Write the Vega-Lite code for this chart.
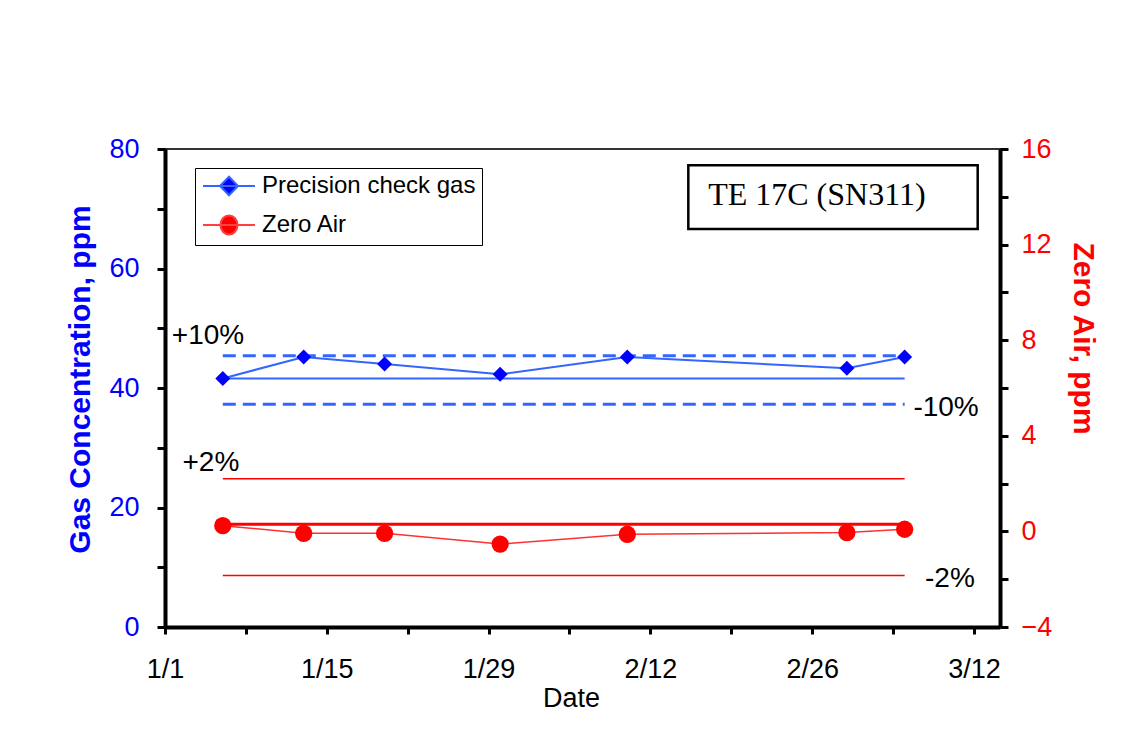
{
  "$schema": "https://vega.github.io/schema/vega-lite/v6.json",
  "width": 835,
  "height": 478,
  "autosize": {"type": "none"},
  "padding": {"left": 165, "top": 149, "right": 129, "bottom": 128},
  "background": "white",
  "config": {
    "font": "Liberation Sans",
    "view": {"stroke": "#333333", "strokeWidth": 2},
    "axis": {"grid": false, "domainColor": "black", "domainWidth": 4, "tickColor": "black", "tickWidth": 3, "labelFont": "Liberation Sans", "titleFont": "Liberation Sans", "labelFlush": false, "labelOverlap": false},
    "legend": {
      "orient": "none", "legendX": 30, "legendY": 19, "title": null,
      "labelFontSize": 24, "labelFont": "Liberation Sans", "labelColor": "black", "labelLimit": 400,
      "strokeColor": "black", "fillColor": "white", "padding": 6, "cornerRadius": 0,
      "symbolSize": 400, "symbolOffset": 16, "labelOffset": 21, "rowPadding": 11,
      "symbolStrokeWidth": 2
    }
  },
  "datasets": {
    "obs": [
      {"date": "2005-01-06", "series": "Precision check gas", "value": 41.6},
      {"date": "2005-01-13", "series": "Precision check gas", "value": 45.2},
      {"date": "2005-01-20", "series": "Precision check gas", "value": 44.0},
      {"date": "2005-01-30", "series": "Precision check gas", "value": 42.3},
      {"date": "2005-02-10", "series": "Precision check gas", "value": 45.2},
      {"date": "2005-03-01", "series": "Precision check gas", "value": 43.3},
      {"date": "2005-03-06", "series": "Precision check gas", "value": 45.2},
      {"date": "2005-01-06", "series": "Zero Air", "value": 0.24},
      {"date": "2005-01-13", "series": "Zero Air", "value": -0.08},
      {"date": "2005-01-20", "series": "Zero Air", "value": -0.08},
      {"date": "2005-01-30", "series": "Zero Air", "value": -0.53},
      {"date": "2005-02-10", "series": "Zero Air", "value": -0.12},
      {"date": "2005-03-01", "series": "Zero Air", "value": -0.05},
      {"date": "2005-03-06", "series": "Zero Air", "value": 0.09}
    ],
    "refs": [
      {"series": "Precision check gas", "kind": "reference", "date": "2005-01-06", "end": "2005-03-06", "value": 41.6},
      {"series": "Precision check gas", "kind": "upper", "date": "2005-01-06", "end": "2005-03-06", "value": 45.4},
      {"series": "Precision check gas", "kind": "lower", "date": "2005-01-06", "end": "2005-03-06", "value": 37.3},
      {"series": "Zero Air", "kind": "reference", "date": "2005-01-06", "end": "2005-03-06", "value": 0.3},
      {"series": "Zero Air", "kind": "upper", "date": "2005-01-06", "end": "2005-03-06", "value": 2.2},
      {"series": "Zero Air", "kind": "lower", "date": "2005-01-06", "end": "2005-03-06", "value": -1.85}
    ],
    "notes": [
      {"date": "2005-01-04T17:15:00Z", "value": 48.7, "label": "+10%"},
      {"date": "2005-03-09T14:00:00Z", "value": 36.6, "label": "-10%"},
      {"date": "2005-01-04T23:15:00Z", "value": 27.5, "label": "+2%"},
      {"date": "2005-03-09T22:00:00Z", "value": 8.0, "label": "-2%"}
    ],
    "box": [
      {"label": "TE 17C (SN311)"}
    ]
  },
  "layer": [
    {
      "layer": [
        {
          "data": {"name": "obs"},
          "transform": [{"filter": "datum.series === 'Precision check gas'"}],
          "mark": {"type": "line", "color": "#3366ff", "strokeWidth": 2},
          "encoding": {
            "x": {
              "field": "date", "type": "temporal",
              "scale": {"type": "utc", "domain": [{"year": 2005, "month": 1, "date": 1, "utc": true}, {"year": 2005, "month": 3, "date": 14, "hours": 6, "utc": true}]},
              "axis": {
                "values": [
                  {"year": 2005, "month": 1, "date": 1, "utc": true},
                  {"year": 2005, "month": 1, "date": 8, "utc": true},
                  {"year": 2005, "month": 1, "date": 15, "utc": true},
                  {"year": 2005, "month": 1, "date": 22, "utc": true},
                  {"year": 2005, "month": 1, "date": 29, "utc": true},
                  {"year": 2005, "month": 2, "date": 5, "utc": true},
                  {"year": 2005, "month": 2, "date": 12, "utc": true},
                  {"year": 2005, "month": 2, "date": 19, "utc": true},
                  {"year": 2005, "month": 2, "date": 26, "utc": true},
                  {"year": 2005, "month": 3, "date": 5, "utc": true},
                  {"year": 2005, "month": 3, "date": 12, "utc": true}
                ],
                "labelExpr": "round((datum.value - utc(2005,0,1)) / 86400000) % 14 === 0 ? (utcmonth(datum.value) + 1) + '/' + utcdate(datum.value) : ''",
                "labelFontSize": 27, "labelColor": "black", "tickSize": 7, "labelPadding": 22,
                "title": "Date", "titleFontSize": 27, "titleFontWeight": "normal", "titleColor": "black",
                "titleX": 406, "titleY": 58, "titleBaseline": "top", "titleAlign": "center"
              }
            },
            "y": {
              "field": "value", "type": "quantitative",
              "scale": {"domain": [0, 80], "nice": false, "zero": false},
              "axis": {
                "values": [0, 10, 20, 30, 40, 50, 60, 70, 80],
                "labelExpr": "datum.value % 20 === 0 ? datum.label : ''",
                "labelFontSize": 27, "labelColor": "#0000ff", "tickSize": 8, "labelPadding": 18,
                "title": "Gas Concentration, ppm", "titleFontSize": 30, "titleFontWeight": "bold", "titleColor": "#0000ff",
                "titleX": -70, "titleY": 230, "titleAngle": 270, "titleBaseline": "bottom", "titleAlign": "center"
              }
            }
          }
        },
        {
          "data": {"name": "refs"},
          "transform": [{"filter": "datum.series === 'Precision check gas' && datum.kind === 'reference'"}],
          "mark": {"type": "rule", "color": "#3366ff", "strokeWidth": 2},
          "encoding": {
            "x": {"field": "date", "type": "temporal"},
            "x2": {"field": "end"},
            "y": {"field": "value", "type": "quantitative"}
          }
        },
        {
          "data": {"name": "refs"},
          "transform": [{"filter": "datum.series === 'Precision check gas' && datum.kind !== 'reference'"}],
          "mark": {"type": "rule", "color": "#3366ff", "strokeWidth": 3, "strokeDash": [13, 7]},
          "encoding": {
            "x": {"field": "date", "type": "temporal"},
            "x2": {"field": "end"},
            "y": {"field": "value", "type": "quantitative"}
          }
        },
        {
          "data": {"name": "obs"},
          "transform": [{"filter": "datum.series === 'Precision check gas'"}],
          "mark": {"type": "point", "shape": "diamond", "filled": true, "size": 225, "opacity": 1, "color": "#0000ff"},
          "encoding": {
            "x": {"field": "date", "type": "temporal"},
            "y": {"field": "value", "type": "quantitative"}
          }
        },
        {
          "data": {"name": "obs"},
          "transform": [{"filter": "false"}],
          "mark": {"type": "point", "filled": true, "opacity": 1, "strokeWidth": 2},
          "encoding": {
            "x": {"field": "date", "type": "temporal"},
            "y": {"field": "value", "type": "quantitative"},
            "fill": {
              "field": "series", "type": "nominal",
              "scale": {"domain": ["Precision check gas", "Zero Air"], "range": ["#0000ff", "#ff0000"]},
              "legend": {"orient": "none", "legendX": 30, "legendY": 19, "title": null, "labelExpr": "datum.label + '\u00a0\u00a0\u00a0'"}
            },
            "stroke": {
              "field": "series", "type": "nominal",
              "scale": {"domain": ["Precision check gas", "Zero Air"], "range": ["#3366ff", "#ff4040"]},
              "legend": {"orient": "none", "legendX": 30, "legendY": 19, "title": null, "labelExpr": "datum.label + '\u00a0\u00a0\u00a0'"}
            },
            "shape": {
              "field": "series", "type": "nominal",
              "scale": {"domain": ["Precision check gas", "Zero Air"], "range": ["M-2.6,0L2.6,0M-0.9,0L0,-0.92L0.9,0L0,0.92Z", "M-2.6,0L2.6,0M-0.85,0A0.85,0.95 0 1,1 0.85,0A0.85,0.95 0 1,1 -0.85,0Z"]},
              "legend": {"orient": "none", "legendX": 30, "legendY": 19, "title": null, "labelExpr": "datum.label + '\u00a0\u00a0\u00a0'"}
            }
          }
        },
        {
          "data": {"name": "notes"},
          "mark": {"type": "text", "fontSize": 28, "color": "black", "align": "center", "baseline": "middle", "font": "Liberation Sans"},
          "encoding": {
            "x": {"field": "date", "type": "temporal"},
            "y": {"field": "value", "type": "quantitative"},
            "text": {"field": "label"}
          }
        },
        {
          "data": {"name": "box"},
          "mark": {"type": "rect", "fill": "white", "stroke": "black", "strokeWidth": 2.5},
          "encoding": {
            "x": {"datum": {"year": 2005, "month": 2, "date": 15, "hours": 6, "minutes": 45, "utc": true}, "type": "temporal"},
            "x2": {"datum": {"year": 2005, "month": 3, "date": 12, "hours": 7, "minutes": 40, "utc": true}},
            "y": {"datum": 77.3, "type": "quantitative"},
            "y2": {"datum": 66.6}
          }
        },
        {
          "data": {"name": "box"},
          "mark": {"type": "text", "font": "Liberation Serif", "fontSize": 32, "color": "black", "align": "left", "baseline": "middle"},
          "encoding": {
            "x": {"datum": {"year": 2005, "month": 2, "date": 17, "utc": true}, "type": "temporal"},
            "y": {"datum": 72.3, "type": "quantitative"},
            "text": {"field": "label"}
          }
        }
      ]
    },
    {
      "layer": [
        {
          "data": {"name": "obs"},
          "transform": [{"filter": "datum.series === 'Zero Air'"}],
          "mark": {"type": "line", "color": "#ff3030", "strokeWidth": 1.5},
          "encoding": {
            "x": {"field": "date", "type": "temporal"},
            "y": {
              "field": "value", "type": "quantitative",
              "scale": {"domain": [-4, 16], "nice": false, "zero": false},
              "axis": {
                "orient": "right",
                "values": [-4, -3, -2, -1, 0, 1, 2, 3, 4, 5, 6, 7, 8, 9, 10, 11, 12, 13, 14, 15, 16],
                "labelExpr": "datum.value % 4 === 0 ? datum.label : ''",
                "labelFontSize": 27, "labelColor": "#ff0000", "tickSize": 8, "labelPadding": 13,
                "title": "Zero Air, ppm", "titleFontSize": 30, "titleFontWeight": "bold", "titleColor": "#ff0000",
                "titleX": 67, "titleY": 189, "titleAngle": 90, "titleBaseline": "bottom", "titleAlign": "center"
              }
            }
          }
        },
        {
          "data": {"name": "refs"},
          "transform": [{"filter": "datum.series === 'Zero Air' && datum.kind === 'reference'"}],
          "mark": {"type": "rule", "color": "#ff0000", "strokeWidth": 3},
          "encoding": {
            "x": {"field": "date", "type": "temporal"},
            "x2": {"field": "end"},
            "y": {"field": "value", "type": "quantitative"}
          }
        },
        {
          "data": {"name": "refs"},
          "transform": [{"filter": "datum.series === 'Zero Air' && datum.kind !== 'reference'"}],
          "mark": {"type": "rule", "color": "#ff0000", "strokeWidth": 1.5},
          "encoding": {
            "x": {"field": "date", "type": "temporal"},
            "x2": {"field": "end"},
            "y": {"field": "value", "type": "quantitative"}
          }
        },
        {
          "data": {"name": "obs"},
          "transform": [{"filter": "datum.series === 'Zero Air'"}],
          "mark": {"type": "point", "shape": "circle", "filled": true, "size": 300, "opacity": 1, "color": "#ff0000"},
          "encoding": {
            "x": {"field": "date", "type": "temporal"},
            "y": {"field": "value", "type": "quantitative"}
          }
        }
      ]
    }
  ],
  "resolve": {"scale": {"y": "independent"}}
}
